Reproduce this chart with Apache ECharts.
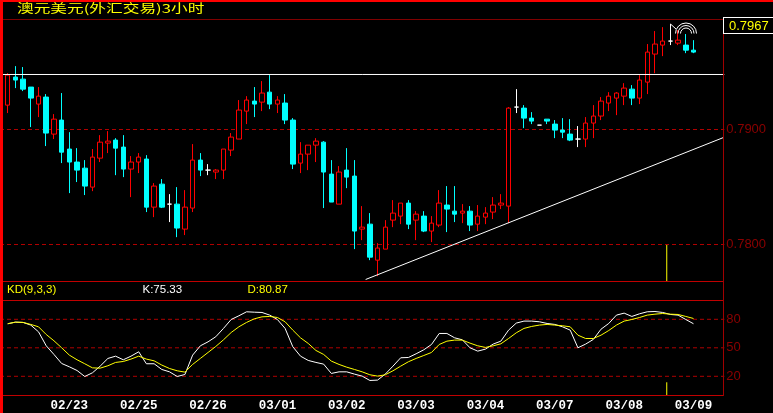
<!DOCTYPE html>
<html><head><meta charset="utf-8">
<style>html,body{margin:0;padding:0;background:#000}#c{width:773px;height:413px}</style>
<script src="https://cdn.jsdelivr.net/npm/echarts@6/dist/echarts.min.js"></script>
</head><body><div id="c"></div>
<script>
const opens = [.79212,.79456,.79438,.79369,.79221,.79282,.78960,.79082,.78830,.78717,.78664,.78499,.78751,.78882,.78908,.78847,.78656,.78717,.78743,.78325,.78525,.78351,.78351,.78134,.78317,.78734,.78647,.78630,.78647,.78821,.78917,.79160,.79247,.79238,.79325,.79221,.79230,.79082,.78708,.78786,.78864,.78890,.78612,.78351,.78647,.78595,.78134,.78177,.77864,.77960,.78212,.78247,.78360,.78212,.78247,.78117,.78169,.78343,.78290,.78273,.78290,.78177,.78238,.78282,.78343,.78334,.79195,.79186,.79099,.79038,.79090,.79047,.78995,.78960,.78917,.78917,.79056,.79117,.79230,.79273,.79290,.79351,.79273,.79412,.79656,.79734,.79769,.79751,.79734,.79690];
const closes = [.79473,.79430,.79351,.79273,.79290,.78969,.79090,.78803,.78717,.78647,.78508,.78760,.78890,.78899,.78838,.78656,.78717,.78760,.78325,.78508,.78325,.78351,.78143,.78325,.78734,.78647,.78647,.78647,.78830,.78934,.79169,.79256,.79221,.79317,.79221,.79256,.79082,.78699,.78786,.78864,.78899,.78630,.78369,.78630,.78586,.78117,.78151,.77890,.77969,.78151,.78273,.78360,.78177,.78264,.78117,.78186,.78360,.78308,.78264,.78290,.78169,.78247,.78273,.78343,.78360,.79186,.79195,.79099,.79073,.79038,.79073,.78995,.78977,.78908,.78917,.79056,.79117,.79247,.79290,.79317,.79360,.79273,.79430,.79673,.79743,.79769,.79769,.79777,.79690,.79673];
const lows = [.79143,.79360,.79334,.79021,.79108,.78856,.78917,.78708,.78447,.78543,.78430,.78464,.78717,.78795,.78603,.78586,.78412,.78621,.78282,.78238,.78317,.78195,.78064,.78082,.78282,.78595,.78603,.78569,.78569,.78769,.78917,.79047,.79108,.79160,.79177,.79143,.79047,.78656,.78621,.78647,.78717,.78317,.78369,.78351,.78490,.77960,.78038,.77864,.77725,.77960,.78151,.78177,.78134,.78038,.78108,.78021,.78151,.78108,.78195,.78186,.78117,.78117,.78177,.78221,.78308,.78186,.79143,.79012,.79047,.79038,.79047,.78925,.78925,.78899,.78847,.78847,.78925,.79082,.79160,.79125,.79212,.79212,.79221,.79308,.79490,.79638,.79734,.79734,.79664,.79664];
const highs = [.79490,.79551,.79543,.79369,.79369,.79308,.79134,.79317,.78977,.78838,.78734,.78830,.78951,.78986,.78925,.78951,.78769,.78795,.78777,.78534,.78569,.78438,.78499,.78473,.78873,.78795,.78699,.78656,.78830,.78969,.79256,.79290,.79369,.79421,.79473,.79290,.79308,.79099,.78890,.78864,.78925,.78899,.78734,.78682,.78838,.78734,.78334,.78273,.78012,.78212,.78386,.78360,.78386,.78290,.78290,.78247,.78473,.78508,.78508,.78351,.78334,.78343,.78325,.78412,.78438,.79195,.79351,.79212,.79151,.79038,.79090,.79082,.79099,.79090,.79030,.79108,.79212,.79282,.79325,.79325,.79403,.79386,.79473,.79743,.79856,.79890,.79917,.79864,.79830,.79777];
const kValues = [75.3,77.0,76.7,73.9,66.8,52.1,43.0,33.5,30.0,26.1,19.8,23.7,30.7,38.8,41.2,37.4,41.2,45.8,33.2,33.2,27.2,24.7,19.8,21.9,42.3,52.1,56.3,61.6,70.4,79.8,83.7,87.9,87.5,87.2,84.4,79.8,70.4,51.1,41.2,36.7,34.6,32.8,23.0,24.7,24.7,22.3,20.2,15.6,16.0,22.3,30.7,39.5,39.8,43.7,47.9,53.5,65.1,65.1,60.5,58.4,50.0,46.5,48.6,53.9,57.0,68.6,76.0,78.1,78.1,77.4,75.6,74.6,72.1,68.6,50.0,53.9,58.8,69.6,75.6,84.4,86.5,83.0,85.8,87.9,88.2,87.2,85.1,84.4,79.8,75.33];
const dValues = [75.3,77.0,76.7,74.6,72.1,64.0,57.4,50.0,42.3,37.4,33.2,28.9,28.6,31.1,34.6,35.6,38.1,41.2,38.1,36.3,31.8,28.2,25.8,24.4,32.5,38.8,45.1,51.4,58.4,66.1,72.1,76.7,80.5,82.6,83.0,81.9,77.4,68.6,60.5,54.6,47.2,43.0,36.0,32.5,29.6,27.2,24.7,21.6,20.2,21.6,25.8,30.7,35.3,38.8,41.9,45.1,53.5,57.0,58.1,58.1,54.9,52.1,50.4,52.1,54.2,59.8,65.8,70.4,72.5,73.9,74.6,73.9,73.2,72.1,63.3,59.8,59.8,63.3,68.2,73.9,78.1,79.8,81.9,84.4,85.4,86.1,85.4,85.1,83.0,80.87];
const tickDates = ['02/23','02/25','02/26','03/01','03/02','03/03','03/04','03/07','03/08','03/09'];
const tickCandles = [8,17,26,35,44,53,62,71,80,89];
const priceTicks = [0.78,0.79];
const kdTicks = [20,50,80];
const resistance = 0.794783;
const trendIdx = [46.45,92.83];
const trendVal = [0.776957,0.789287];
const signalIdx = 85.53;
const priceSignal = [0.779957,0.776783];
const kdSignal = [0,13.7];
const titleText = '澳元美元(外汇交易)3小时';
const lastPrice = '0.7967';
const kdName = 'KD(9,3,3)', kText = 'K:75.33', dText = 'D:80.87';

// slots: one leading empty slot, then the candles, then empty slots up to the axis
const SLOTS = 95;
const cats = new Array(SLOTS).fill('');
tickCandles.forEach((c,i)=>{cats[c+1]=tickDates[i];});
const candle = opens.map((o,i)=>[o,closes[i],lows[i],highs[i]]);
const ohlc = [['-','-','-','-']].concat(candle);
const pad = v => ['-'].concat(v);
const XMIN=-1, XMAX=93, PMIN=0.776783, PMAX=0.799609;
const dashRed='#b00000', axisRed='#a00000', labelRed='#8c0000';
const dash = (val,xi,yi)=>({type:'line',xAxisIndex:xi,yAxisIndex:yi,data:[[XMIN,val],[XMAX,val]],symbol:'none',silent:true,animation:false,lineStyle:{color:dashRed,width:1,type:[4,3]},z:1});
const solid = (data,xi,yi,color,z)=>({type:'line',xAxisIndex:xi,yAxisIndex:yi,data,symbol:'none',silent:true,animation:false,lineStyle:{color,width:1},z:z||4});
const hline = (y,c)=>({type:'line',shape:{x1:3,y1:y,x2:723,y2:y},style:{stroke:c,lineWidth:1},silent:true,z:50});
const arc = r=>({type:'arc',shape:{cx:686,cy:33.5,r,startAngle:Math.PI,endAngle:Math.PI*2},style:{stroke:'#fff',fill:null,lineWidth:1},silent:true,z:60});
const txt = (x,y,text,fill,font,extra)=>Object.assign({type:'text',x,y,style:{text,fill,font,textVerticalAlign:'middle'},silent:true,z:70},extra||{});

const chart = echarts.init(document.getElementById('c'),null,{renderer:'canvas'});
chart.setOption({
  backgroundColor:'#000',
  animation:false,
  grid:[
    {left:-3.24,right:773-724.32,top:19,height:262.5,containLabel:false},
    {left:-3.24,right:773-724.32,top:300.3,height:95,containLabel:false}
  ],
  xAxis:[
    {type:'category',gridIndex:0,data:cats,boundaryGap:false,axisLine:{show:false},axisTick:{show:false},axisLabel:{show:false},splitLine:{show:false}},
    {type:'value',gridIndex:0,min:XMIN,max:XMAX,show:false},
    {type:'category',gridIndex:1,data:cats,boundaryGap:false,axisLine:{show:false},axisTick:{show:false},splitLine:{show:false},
     axisLabel:{show:true,interval:(i,v)=>v!=='',color:'#fff',fontFamily:'Liberation Mono',fontWeight:'bold',fontSize:12.5,margin:4,hideOverlap:false}},
    {type:'value',gridIndex:1,min:XMIN,max:XMAX,show:false}
  ],
  yAxis:[
    {type:'value',gridIndex:0,position:'right',min:PMIN,max:PMAX,splitLine:{show:false},axisLine:{show:false},axisTick:{show:false},
     axisLabel:{customValues:priceTicks,formatter:v=>v.toFixed(4),color:labelRed,fontFamily:'Liberation Sans',fontSize:13,margin:2}},
    {type:'value',gridIndex:1,position:'right',min:0,max:100,splitLine:{show:false},axisLine:{show:false},axisTick:{show:false},
     axisLabel:{customValues:kdTicks,color:labelRed,fontFamily:'Liberation Sans',fontSize:13,margin:2}}
  ],
  series:[
    dash(priceTicks[0],1,0),dash(priceTicks[1],1,0),
    dash(kdTicks[0],3,1),dash(kdTicks[1],3,1),dash(kdTicks[2],3,1),
    {type:'candlestick',xAxisIndex:0,yAxisIndex:0,data:ohlc,barWidth:5,clip:false,silent:true,z:3,
     itemStyle:{color:'#000',color0:'#00ffff',borderColor:'#ff0000',borderColor0:'#00ffff',borderColorDoji:'#ffffff',borderWidth:1}},
    solid([[XMIN,resistance],[XMAX,resistance]],1,0,'#ffffff',5),
    solid([[trendIdx[0],trendVal[0]],[trendIdx[1],trendVal[1]]],1,0,'#ffffff',5),
    solid([[signalIdx,priceSignal[0]],[signalIdx,priceSignal[1]]],1,0,'#ffff00',2),
    solid([[signalIdx,kdSignal[0]],[signalIdx,kdSignal[1]]],3,1,'#ffff00',2),
    {type:'line',xAxisIndex:2,yAxisIndex:1,data:pad(kValues),symbol:'none',silent:true,lineStyle:{color:'#ffffff',width:1},z:5},
    {type:'line',xAxisIndex:2,yAxisIndex:1,data:pad(dValues),symbol:'none',silent:true,lineStyle:{color:'#ffff00',width:1},z:6}
  ],
  graphic:[
    {type:'rect',shape:{x:0,y:0,width:3,height:413},style:{fill:'#ff0000'},silent:true,z:80},
    {type:'rect',shape:{x:0,y:0,width:773,height:2},style:{fill:'#ff0000'},silent:true,z:80},
    hline(19.5,'#800000'),hline(281.5,'#c00000'),hline(300.5,'#c00000'),hline(395.5,'#c00000'),
    {type:'line',shape:{x1:723.5,y1:19,x2:723.5,y2:396},style:{stroke:axisRed,lineWidth:1},silent:true,z:50},
    {type:'line',shape:{x1:723,y1:17.5,x2:773,y2:17.5},style:{stroke:'#fff',lineWidth:1},silent:true,z:55},
    {type:'line',shape:{x1:723,y1:33.5,x2:773,y2:33.5},style:{stroke:'#fff',lineWidth:1},silent:true,z:55},
    {type:'line',shape:{x1:723.5,y1:17,x2:723.5,y2:34},style:{stroke:'#fff',lineWidth:1},silent:true,z:55},
    arc(5.5),arc(8),arc(10.5),
    {type:'polyline',shape:{points:[[670.5,24],[676,29]]},style:{stroke:'#fff',fill:null,lineWidth:1},silent:true,z:60},
    txt(17,8,titleText,'#ffff00','12px "Noto Sans CJK SC"',{scaleX:1.39,originX:0,originY:0}),
    txt(729,26,lastPrice,'#ffff00','13px "Liberation Sans"'),
    txt(7,290,kdName,'#ffff00','11.5px "Liberation Sans"'),
    txt(142.5,290,kText,'#ffffff','11.5px "Liberation Sans"'),
    txt(247.5,290,dText,'#ffff00','11.5px "Liberation Sans"')
  ]
});
</script>
</body></html>
